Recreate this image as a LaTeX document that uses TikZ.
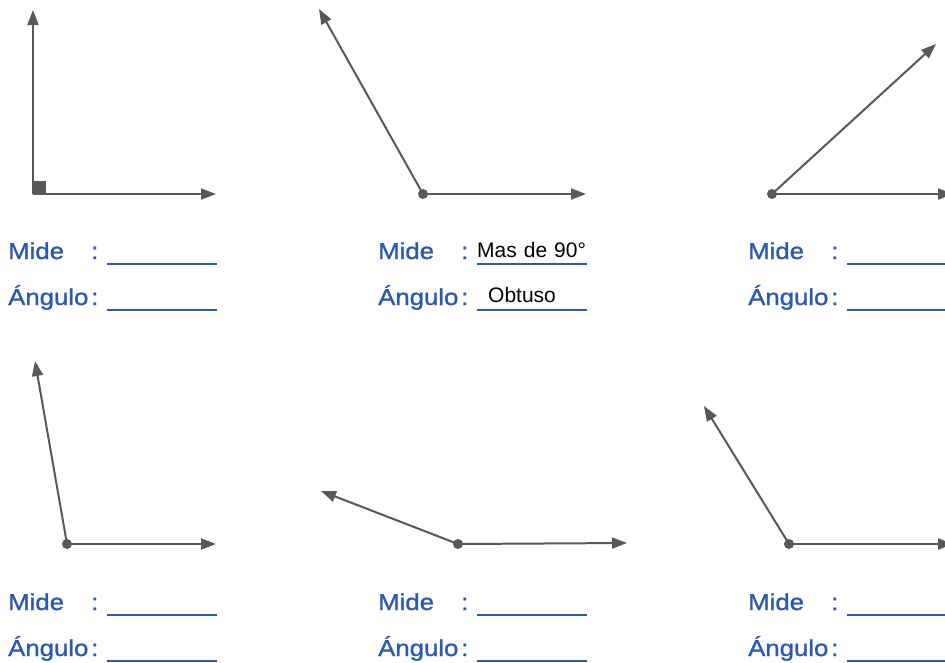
\documentclass[tikz,border=0pt]{standalone}
\usepackage{fontspec}
\setmainfont{Liberation Sans}
\newfontfamily\tagfont[FakeStretch=1.12, FakeBold=1.2]{Liberation Sans}
\usepackage{xcolor}
\usepackage{tikz}
\usetikzlibrary{positioning,calc,arrows.meta}

\definecolor{rayGray}{RGB}{88,88,88}
\definecolor{tagBlue}{RGB}{42,90,176}

\tikzset{
    ray/.style={draw=rayGray, line width=2pt, -{Triangle[length=15pt,width=11pt]}},
    word/.style={anchor=base west, inner sep=0pt, text=tagBlue, font=\tagfont\fontsize{23}{28}\selectfont},
    blank/.style={anchor=base west, inner sep=0pt, text width=110pt, align=left, font=\fontsize{21}{26}\selectfont},
    rule/.style={draw=tagBlue, line width=1.8pt}
}

\begin{document}
\begin{tikzpicture}[x=1pt, y=-1pt]
            \useasboundingbox (0,0) rectangle (945,662);
            \clip (0,0) rectangle (945,662);

            % Vertices and tips
            \coordinate (v1) at (33,194);  \coordinate (a1) at (33,10);   \coordinate (b1) at (216,194);
            \coordinate (v2) at (423,194); \coordinate (a2) at (319,9);   \coordinate (b2) at (586,194);
            \coordinate (v3) at (772,194); \coordinate (a3) at (936,44);  \coordinate (b3) at (953,194);
            \coordinate (v4) at (67,544);  \coordinate (a4) at (35,361);  \coordinate (b4) at (216,544);
            \coordinate (v5) at (458,544); \coordinate (a5) at (321,491); \coordinate (b5) at (627,543);
            \coordinate (v6) at (789,544); \coordinate (a6) at (704,406); \coordinate (b6) at (953,544);

            % Rays
            \foreach \k in {1,...,6} {
                \draw[ray] (v\k) -- (a\k);
                \draw[ray] (v\k) -- (b\k);
            }

            % Vertex marks
            \fill[rayGray] (v1) rectangle ++(13,-13);
            \foreach \k in {2,...,6}
                \fill[rayGray] (v\k) circle (5);

            % Answer lines
            \foreach \col/\row/\measure/\kind [count=\k] in {0/0//, 370/0/Mas de 90°/\hspace*{11pt}Obtuso, 740/0//,
                                                         0/351//, 370/351//, 740/351//} {
                \node[word] (mide\k) at (8+\col,259+\row) {Mide};
                \node[word] (mc\k) at (91+\col,259+\row) {:};
                \node[blank] (med\k) at (107+\col,259+\row) {\raisebox{2pt}{\measure}};
                \draw[rule] ([yshift=-5pt]med\k.base west) -- ([yshift=-5pt]med\k.base east);

                \node[word] (ang\k) at (8+\col,305+\row) {Ángulo};
                \node[word] (ac\k) at (91+\col,305+\row) {:};
                \node[blank] (kind\k) at (107+\col,305+\row) {\raisebox{3pt}{\kind}};
                \draw[rule] ([yshift=-5pt]kind\k.base west) -- ([yshift=-5pt]kind\k.base east);
            }
        \end{tikzpicture}
\end{document}
